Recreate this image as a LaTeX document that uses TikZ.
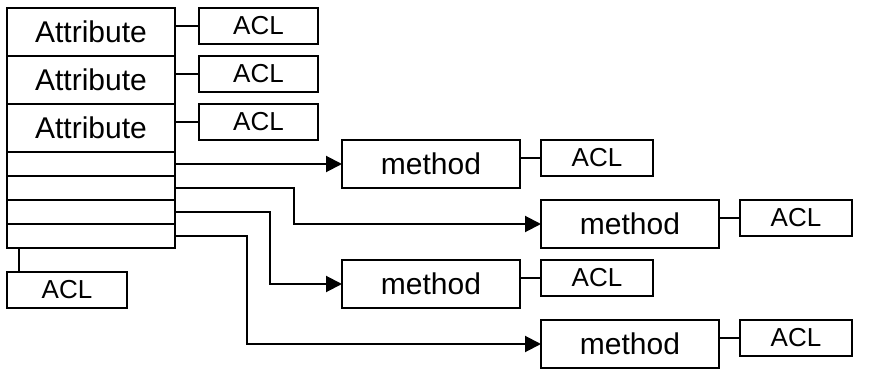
\documentclass[tikz,border=0pt]{standalone}
\usepackage{fontspec}
\setmainfont{Liberation Sans}
\usetikzlibrary{positioning,arrows.meta,calc}

\begin{document}
\begin{tikzpicture}[
  x=1pt,y=-1pt,
  line width=2pt,
  box/.style={draw,outer sep=0pt,inner sep=0pt,minimum width=168pt},
  attr/.style={box,minimum height=48pt,font=\fontsize{30}{30}\selectfont},
  slotbox/.style={box,minimum height=24pt},
  meth/.style={box,minimum width=178pt,minimum height=48pt,font=\fontsize{30}{30}\selectfont},
  acl/.style={box,minimum width=119pt,minimum height=36pt,font=\fontsize{26}{26}\selectfont},
  macl/.style={acl,minimum width=112pt},
  ar/.style={-{Triangle[length=16pt,width=16pt]}}]
\useasboundingbox (0,0) rectangle (895,369);
% ---- object: attributes and method slots ----
\node[attr] (a1) at (91,32) {Attribute};
\node[attr,below=0pt of a1] (a2) {Attribute};
\node[attr,below=0pt of a2] (a3) {Attribute};
\node[slotbox,below=0pt of a3] (s1) {};
\node[slotbox,below=0pt of s1] (s2) {};
\node[slotbox,below=0pt of s2] (s3) {};
\node[slotbox,below=0pt of s3] (s4) {};
% ---- attribute ACLs ----
\node[acl,right=24pt of a1,yshift=6pt] (c1) {ACL};
\node[acl,right=24pt of a2,yshift=6pt] (c2) {ACL};
\node[acl,right=24pt of a3,yshift=6pt] (c3) {ACL};
\draw (c1.west) -- (c1.west -| a1.east);
\draw (c2.west) -- (c2.west -| a2.east);
\draw (c3.west) -- (c3.west -| a3.east);
% ---- object ACL ----
\node[acl,minimum width=120pt,below=24pt of s4.south west,anchor=north west] (c0) {ACL};
\draw ([xshift=12pt]c0.north west) -- ++(0,-24);
% ---- methods ----
\node[meth,right=167pt of s1] (m1) {method};
\node[meth,below right=12pt and 21pt of m1.south east] (m2) {method};
\node[meth,below=72pt of m1] (m3) {method};
\node[meth,below=72pt of m2] (m4) {method};
\node[macl,right=21pt of m1.north east,anchor=north west] (d1) {ACL};
\node[macl,right=21pt of m2.north east,anchor=north west] (d2) {ACL};
\node[macl,right=21pt of m3.north east,anchor=north west] (d3) {ACL};
\node[macl,right=21pt of m4.north east,anchor=north west] (d4) {ACL};
\draw (d1.west) -- (d1.west -| m1.east);
\draw (d2.west) -- (d2.west -| m2.east);
\draw (d3.west) -- (d3.west -| m3.east);
\draw (d4.west) -- (d4.west -| m4.east);
% ---- slot links ----
\draw[ar] (s1.east) -- (m1.west);
\draw[ar] (s2.east) -- ++(119,0) |- (m2.west);
\draw[ar] (s3.east) -- ++(95,0) |- (m3.west);
\draw[ar] (s4.east) -- ++(72,0) |- (m4.west);
\end{tikzpicture}
\end{document}
